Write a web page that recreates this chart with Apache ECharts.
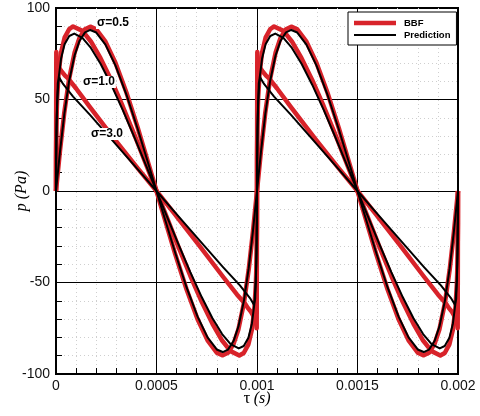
<!DOCTYPE html>
<html>
<head>
<meta charset="utf-8">
<script src="https://cdn.jsdelivr.net/npm/echarts@6.0.0/dist/echarts.min.js"></script>
<style>
html,body{margin:0;padding:0;background:#fff;}
#chart{width:480px;height:416px;}
</style>
</head>
<body>
<div id="chart"></div>
<script>
// ---- data (tau in s, p in Pa) ----
const xTicks = [0, 0.0005, 0.001, 0.0015, 0.002];
const yTicks = [-100, -50, 0, 50, 100];
const sigmaLabels = ['σ=0.5', 'σ=1.0', 'σ=3.0'];
const legendNames = ['BBF', 'Prediction'];

const predSigma05 = [
  [0,0],[20.1e-6,21.8],[41.4e-6,42.2],[65.1e-6,60.0],[92.2e-6,74.0],[116.8e-6,82.0],[144.4e-6,86.7],[170.4e-6,88.0],[200.2e-6,86.6],[246e-6,80.0],[296.2e-6,68.5],[350.3e-6,52.7],[407.3e-6,33.6],[466.2e-6,12.4],[500e-6,0],
  [533.8e-6,-12.4],[592.7e-6,-33.6],[649.7e-6,-52.7],[703.8e-6,-68.5],[754e-6,-80.0],[799.8e-6,-86.6],[829.6e-6,-88.0],[855.6e-6,-86.7],[883.2e-6,-82.0],[907.8e-6,-74.0],[934.9e-6,-60.0],[958.6e-6,-42.2],[979.9e-6,-21.8],[1000e-6,0],
  [1020.1e-6,21.8],[1041.4e-6,42.2],[1065.1e-6,60.0],[1092.2e-6,74.0],[1116.8e-6,82.0],[1144.4e-6,86.7],[1170.4e-6,88.0],[1200.2e-6,86.6],[1246e-6,80.0],[1296.2e-6,68.5],[1350.3e-6,52.7],[1407.3e-6,33.6],[1466.2e-6,12.4],[1500e-6,0],
  [1533.8e-6,-12.4],[1592.7e-6,-33.6],[1649.7e-6,-52.7],[1703.8e-6,-68.5],[1754e-6,-80.0],[1799.8e-6,-86.6],[1829.6e-6,-88.0],[1855.6e-6,-86.7],[1883.2e-6,-82.0],[1907.8e-6,-74.0],[1934.9e-6,-60.0],[1958.6e-6,-42.2],[1979.9e-6,-21.8],[2000e-6,0]
];
const bbfSigma05 = [
  [0,0],[20.1e-6,22.2],[41.4e-6,43.0],[65.1e-6,61.2],[92.2e-6,75.5],[116.8e-6,83.6],[144.4e-6,88.4],[170.4e-6,89.8],[200.2e-6,88.3],[246e-6,81.6],[296.2e-6,69.9],[350.3e-6,53.8],[407.3e-6,34.3],[466.2e-6,12.6],[500e-6,0],
  [533.8e-6,-12.6],[592.7e-6,-34.3],[649.7e-6,-53.8],[703.8e-6,-69.9],[754e-6,-81.6],[799.8e-6,-88.3],[829.6e-6,-89.8],[855.6e-6,-88.4],[883.2e-6,-83.6],[907.8e-6,-75.5],[934.9e-6,-61.2],[958.6e-6,-43.0],[979.9e-6,-22.2],[1000e-6,0],
  [1020.1e-6,22.2],[1041.4e-6,43.0],[1065.1e-6,61.2],[1092.2e-6,75.5],[1116.8e-6,83.6],[1144.4e-6,88.4],[1170.4e-6,89.8],[1200.2e-6,88.3],[1246e-6,81.6],[1296.2e-6,69.9],[1350.3e-6,53.8],[1407.3e-6,34.3],[1466.2e-6,12.6],[1500e-6,0],
  [1533.8e-6,-12.6],[1592.7e-6,-34.3],[1649.7e-6,-53.8],[1703.8e-6,-69.9],[1754e-6,-81.6],[1799.8e-6,-88.3],[1829.6e-6,-89.8],[1855.6e-6,-88.4],[1883.2e-6,-83.6],[1907.8e-6,-75.5],[1934.9e-6,-61.2],[1958.6e-6,-43.0],[1979.9e-6,-22.2],[2000e-6,0]
];
const predSigma10 = [
  [0,0],[0.2e-6,17.1],[1.7e-6,33.5],[5.6e-6,48.6],[13.1e-6,61.7],[25.2e-6,72.4],[42.7e-6,80.2],[66e-6,84.7],[90.8e-6,86.0],[131.5e-6,83.7],[173.6e-6,78.2],[221.5e-6,69.5],[274.5e-6,58.1],[331.8e-6,44.3],[392.3e-6,28.8],[455e-6,12.1],[500e-6,0],
  [545e-6,-12.1],[607.7e-6,-28.8],[668.2e-6,-44.3],[725.5e-6,-58.1],[778.5e-6,-69.5],[826.4e-6,-78.2],[868.5e-6,-83.7],[909.2e-6,-86.0],[934e-6,-84.7],[957.3e-6,-80.2],[974.8e-6,-72.4],[986.9e-6,-61.7],[994.4e-6,-48.6],[998.3e-6,-33.5],[999.8e-6,-17.1],[1000e-6,0],
  [1000.2e-6,17.1],[1001.7e-6,33.5],[1005.6e-6,48.6],[1013.1e-6,61.7],[1025.2e-6,72.4],[1042.7e-6,80.2],[1066e-6,84.7],[1090.8e-6,86.0],[1131.5e-6,83.7],[1173.6e-6,78.2],[1221.5e-6,69.5],[1274.5e-6,58.1],[1331.8e-6,44.3],[1392.3e-6,28.8],[1455e-6,12.1],[1500e-6,0],
  [1545e-6,-12.1],[1607.7e-6,-28.8],[1668.2e-6,-44.3],[1725.5e-6,-58.1],[1778.5e-6,-69.5],[1826.4e-6,-78.2],[1868.5e-6,-83.7],[1909.2e-6,-86.0],[1934e-6,-84.7],[1957.3e-6,-80.2],[1974.8e-6,-72.4],[1986.9e-6,-61.7],[1994.4e-6,-48.6],[1998.3e-6,-33.5],[1999.8e-6,-17.1],[2000e-6,0]
];
const bbfSigma10 = [
  [0,0],[0.2e-6,17.9],[1.7e-6,35.0],[5.6e-6,50.8],[13.1e-6,64.5],[25.2e-6,75.7],[42.7e-6,83.8],[66e-6,88.5],[85e-6,89.9],[131.5e-6,87.5],[173.6e-6,81.7],[221.5e-6,72.6],[274.5e-6,60.7],[331.8e-6,46.3],[392.3e-6,30.1],[455e-6,12.6],[500e-6,0],
  [545e-6,-12.6],[607.7e-6,-30.1],[668.2e-6,-46.3],[725.5e-6,-60.7],[778.5e-6,-72.6],[826.4e-6,-81.7],[868.5e-6,-87.5],[912e-6,-89.9],[934e-6,-88.5],[957.3e-6,-83.8],[974.8e-6,-75.7],[986.9e-6,-64.5],[994.4e-6,-50.8],[998.3e-6,-35.0],[999.8e-6,-17.9],[1000e-6,0],
  [1000.2e-6,17.9],[1001.7e-6,35.0],[1005.6e-6,50.8],[1013.1e-6,64.5],[1025.2e-6,75.7],[1042.7e-6,83.8],[1066e-6,88.5],[1085e-6,89.9],[1131.5e-6,87.5],[1173.6e-6,81.7],[1221.5e-6,72.6],[1274.5e-6,60.7],[1331.8e-6,46.3],[1392.3e-6,30.1],[1455e-6,12.6],[1500e-6,0],
  [1545e-6,-12.6],[1607.7e-6,-30.1],[1668.2e-6,-46.3],[1725.5e-6,-60.7],[1778.5e-6,-72.6],[1826.4e-6,-81.7],[1868.5e-6,-87.5],[1912e-6,-89.9],[1934e-6,-88.5],[1957.3e-6,-83.8],[1974.8e-6,-75.7],[1986.9e-6,-64.5],[1994.4e-6,-50.8],[1998.3e-6,-35.0],[1999.8e-6,-17.9],[2000e-6,0]
];
const predSigma30 = [
  [0,0],[4e-6,40],[9e-6,59],[16e-6,62],[35e-6,58.5],[85e-6,51.6],[168e-6,41.7],[286e-6,27],[410e-6,11.4],[500e-6,0],
  [590e-6,-11.4],[714e-6,-27],[832e-6,-41.7],[915e-6,-51.6],[965e-6,-58.5],[984e-6,-62],[991e-6,-59],[996e-6,-40],[1000e-6,0],
  [1004e-6,40],[1009e-6,59],[1016e-6,62],[1035e-6,58.5],[1085e-6,51.6],[1168e-6,41.7],[1286e-6,27],[1410e-6,11.4],[1500e-6,0],
  [1590e-6,-11.4],[1714e-6,-27],[1832e-6,-41.7],[1915e-6,-51.6],[1965e-6,-58.5],[1984e-6,-62],[1991e-6,-59],[1996e-6,-40],[2000e-6,0]
];
const bbfSigma30 = [
  [0,0],[1.5e-6,76],[5e-6,69.5],[9e-6,70.5],[14e-6,67.5],[20e-6,68],[27e-6,65.5],[35e-6,66],[45e-6,63],[60e-6,61.5],[100e-6,56],[168e-6,46],[286e-6,29],[410e-6,12],[500e-6,0],
  [590e-6,-12.5],[714e-6,-30],[832e-6,-47],[900e-6,-56.5],[940e-6,-61.5],[955e-6,-64],[962e-6,-63.5],[970e-6,-66],[976e-6,-65.5],[983e-6,-68.5],[989e-6,-68],[994e-6,-71],[998.5e-6,-75],[1000e-6,0],
  [1001.5e-6,76],[1005e-6,69.5],[1009e-6,70.5],[1014e-6,67.5],[1020e-6,68],[1027e-6,65.5],[1035e-6,66],[1045e-6,63],[1060e-6,61.5],[1100e-6,56],[1168e-6,46],[1286e-6,29],[1410e-6,12],[1500e-6,0],
  [1590e-6,-12.5],[1714e-6,-30],[1832e-6,-47],[1900e-6,-56.5],[1940e-6,-61.5],[1955e-6,-64],[1962e-6,-63.5],[1970e-6,-66],[1976e-6,-65.5],[1983e-6,-68.5],[1989e-6,-68],[1994e-6,-71],[1998.5e-6,-75],[2000e-6,0]
];

// ---- styling ----
const RED = '#d8232a';
const FONT = '"Liberation Sans", Arial, sans-serif';
const SERIF = '"Liberation Serif", "Times New Roman", serif';

function redSeries(data) {
  return { name: legendNames[0], type: 'line', data: data, showSymbol: false, symbol: 'none',
    lineStyle: { color: RED, width: 4.5, join: 'round' }, itemStyle: { color: RED }, z: 2, silent: true };
}
function blackSeries(data) {
  return { name: legendNames[1], type: 'line', data: data, showSymbol: false, symbol: 'none',
    lineStyle: { color: '#000', width: 2, join: 'round' }, itemStyle: { color: '#000' }, z: 3, silent: true };
}

const chart = echarts.init(document.getElementById('chart'), null, { renderer: 'canvas' });
const option = {
  animation: false,
  backgroundColor: '#fff',
  grid: { left: 56, right: 22, top: 8, bottom: 42, outerBoundsMode: 'none', containLabel: false,
    show: true, borderColor: '#000', borderWidth: 2, backgroundColor: 'transparent' },
  legend: {
    orient: 'vertical', left: 348, top: 12,
    padding: [6, 6, 5, 6], itemGap: 2, itemWidth: 42, itemHeight: 9,
    borderColor: '#000', borderWidth: 1, backgroundColor: '#fff',
    textStyle: { fontFamily: FONT, fontWeight: 'bold', fontSize: 9.5, color: '#000', padding: [0, 0, 0, 3] },
    data: [
      { name: legendNames[0], icon: 'path://M0 0L0 0M0 9L0 9M0 2.2H42V6.8H0Z', itemStyle: { color: RED, borderWidth: 0 } },
      { name: legendNames[1], icon: 'path://M0 0L0 0M0 9L0 9M0 3.5H42V5.5H0Z', itemStyle: { color: '#000', borderWidth: 0 } }
    ],
    z: 20
  },
  xAxis: {
    type: 'value', min: xTicks[0], max: xTicks[xTicks.length - 1], interval: xTicks[1] - xTicks[0],
    name: '{t|τ} {s|(s)}', nameLocation: 'middle', nameGap: 16, nameMoveOverlap: false,
    nameTextStyle: { rich: { t: { fontFamily: SERIF, fontSize: 17, color: '#000' }, s: { fontFamily: SERIF, fontStyle: 'italic', fontSize: 16, color: '#000' } } },
    axisLine: { show: true, onZero: false, lineStyle: { color: '#000', width: 2 } },
    axisTick: { show: true, inside: true, length: 8, lineStyle: { color: '#000' } },
    minorTick: { show: true, splitNumber: 5, length: 6, lineStyle: { color: '#000' } },
    axisLabel: { fontFamily: FONT, fontSize: 14, color: '#111', margin: 5, formatter: v => String(v) },
    splitLine: { show: true, lineStyle: { color: '#000', width: 1 } },
    minorSplitLine: { show: true, lineStyle: { color: '#cfcfcf', width: 1, type: [1, 3] } }
  },
  yAxis: {
    type: 'value', min: yTicks[0], max: yTicks[yTicks.length - 1], interval: yTicks[1] - yTicks[0],
    name: 'p (Pa)', nameLocation: 'middle', nameGap: 26, nameMoveOverlap: false,
    nameTextStyle: { fontFamily: SERIF, fontStyle: 'italic', fontSize: 16, color: '#000' },
    axisLine: { show: true, onZero: false, lineStyle: { color: '#000', width: 2 } },
    axisTick: { show: true, inside: true, length: 8, lineStyle: { color: '#000' } },
    minorTick: { show: true, splitNumber: 5, length: 6, lineStyle: { color: '#000' } },
    axisLabel: { fontFamily: FONT, fontSize: 14, color: '#111', margin: 6 },
    splitLine: { show: true, lineStyle: { color: '#000', width: 1 } },
    minorSplitLine: { show: true, lineStyle: { color: '#cfcfcf', width: 1, type: [1, 3] } }
  },
  series: [
    redSeries(bbfSigma30), redSeries(bbfSigma10), redSeries(bbfSigma05),
    blackSeries(predSigma30), blackSeries(predSigma10), blackSeries(predSigma05)
  ],
  graphic: [
    { type: 'text', left: 96, top: 17, z: 50, style: { text: sigmaLabels[0], font: 'bold 12px ' + FONT, fill: '#000', backgroundColor: '#fff', padding: [0, 1] } },
    { type: 'text', left: 82, top: 76, z: 50, style: { text: sigmaLabels[1], font: 'bold 12px ' + FONT, fill: '#000', backgroundColor: '#fff', padding: [0, 1] } },
    { type: 'text', left: 90, top: 128, z: 50, style: { text: sigmaLabels[2], font: 'bold 12px ' + FONT, fill: '#000', backgroundColor: '#fff', padding: [0, 1] } }
  ]
};
chart.setOption(option);
</script>
</body>
</html>
